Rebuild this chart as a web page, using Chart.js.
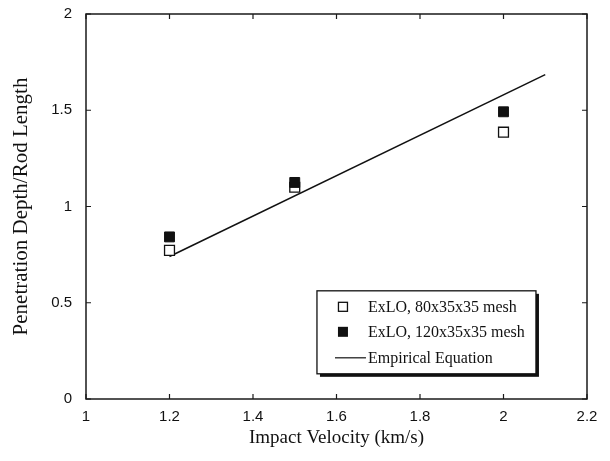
<!DOCTYPE html>
<html>
<head>
<meta charset="utf-8">
<style>
  html, body { margin: 0; padding: 0; background: #fff; }
  #wrap { width: 610px; height: 461px; }
</style>
<script src="https://cdn.jsdelivr.net/npm/chart.js@4.4.1/dist/chart.umd.min.js"></script>
</head>
<body>
<div id="wrap"><canvas id="c" width="610" height="461"></canvas></div>
<script>
// ---- Data ----
const velocities = [1.2, 1.5, 2.0];
const mesh80 = [0.772, 1.10, 1.386];
const mesh120 = [0.842, 1.125, 1.492];
const empiricalX = [1.2, 2.1];
const empiricalY = [0.74, 1.685];
const xTickLabels = ['1', '1.2', '1.4', '1.6', '1.8', '2', '2.2'];
const yTickLabels = ['0', '0.5', '1', '1.5', '2'];
const seriesLabels = ['ExLO, 80x35x35 mesh', 'ExLO, 120x35x35 mesh', 'Empirical Equation'];

const toPts = (xs, ys) => xs.map((x, i) => ({ x: x, y: ys[i] }));

const frameAndTicks = {
  id: 'frameAndTicks',
  afterDatasetsDraw(chart) {
    const { ctx, chartArea: a, scales } = chart;
    ctx.save();
    ctx.strokeStyle = '#1a1a1a';
    ctx.lineWidth = 1.5;
    ctx.strokeRect(a.left, a.top, a.right - a.left, a.bottom - a.top);
    const L = 5;
    ctx.lineWidth = 1.2;
    ctx.beginPath();
    scales.x.ticks.forEach((t, i) => {
      const px = scales.x.getPixelForTick(i);
      ctx.moveTo(px, a.bottom); ctx.lineTo(px, a.bottom - L);
      ctx.moveTo(px, a.top); ctx.lineTo(px, a.top + L);
    });
    scales.y.ticks.forEach((t, i) => {
      const py = scales.y.getPixelForTick(i);
      ctx.moveTo(a.left, py); ctx.lineTo(a.left + L, py);
      ctx.moveTo(a.right, py); ctx.lineTo(a.right - L, py);
    });
    ctx.stroke();
    ctx.restore();
  }
};

const boxLegend = {
  id: 'boxLegend',
  afterDraw(chart) {
    const { ctx, chartArea: a } = chart;
    const w = a.right - a.left, h = a.bottom - a.top;
    const bx = a.left + w * 0.461, by = a.top + h * 0.719;
    const bw = 219, bh = 83;
    ctx.save();
    // shadow
    ctx.fillStyle = '#111';
    ctx.fillRect(bx + 3, by + 3, bw, bh);
    ctx.fillStyle = '#fff';
    ctx.fillRect(bx, by, bw, bh);
    ctx.strokeStyle = '#111';
    ctx.lineWidth = 1.3;
    ctx.strokeRect(bx, by, bw, bh);
    ctx.font = '16px "Liberation Serif", "Times New Roman", serif';
    ctx.textBaseline = 'middle';
    ctx.fillStyle = '#111';
    const mx = bx + 26, tx = bx + 51;
    const rows = [by + 16, by + 41, by + 67];
    // row 1: open square
    ctx.lineWidth = 1.3;
    ctx.fillStyle = '#fff';
    ctx.fillRect(mx - 4.5, rows[0] - 4.5, 9, 9);
    ctx.strokeRect(mx - 4.5, rows[0] - 4.5, 9, 9);
    // row 2: filled square
    ctx.fillStyle = '#111';
    ctx.fillRect(mx - 5, rows[1] - 5, 10, 10);
    // row 3: line
    ctx.beginPath();
    ctx.lineWidth = 1.2;
    ctx.moveTo(bx + 18, rows[2]); ctx.lineTo(bx + 49, rows[2]);
    ctx.stroke();
    ctx.fillStyle = '#111';
    seriesLabels.forEach((s, i) => ctx.fillText(s, tx, rows[i] + 1));
    ctx.restore();
  }
};

new Chart(document.getElementById('c'), {
  type: 'scatter',
  data: {
    datasets: [
      {
        label: seriesLabels[2],
        data: toPts(empiricalX, empiricalY),
        showLine: true,
        borderColor: '#111',
        borderWidth: 1.5,
        pointRadius: 0,
        fill: false,
        order: 3
      },
      {
        label: seriesLabels[0],
        data: toPts(velocities, mesh80),
        pointStyle: 'rect',
        pointRadius: 7,
        backgroundColor: '#fff',
        borderColor: '#111',
        borderWidth: 1.3,
        order: 2
      },
      {
        label: seriesLabels[1],
        data: toPts(velocities, mesh120),
        pointStyle: 'rect',
        pointRadius: 7,
        backgroundColor: '#111',
        borderColor: '#111',
        borderWidth: 1,
        order: 1
      }
    ]
  },
  options: {
    responsive: false,
    devicePixelRatio: 1,
    animation: false,
    layout: { padding: { left: 0, top: 14, right: 23, bottom: 0 } },
    plugins: { legend: { display: false }, tooltip: { enabled: false } },
    scales: {
      x: {
        type: 'linear',
        min: 1, max: 2.2,
        afterFit(s) { s.height = 62; s.paddingLeft = 0; s.paddingRight = 0; },
        ticks: {
          stepSize: 0.2,
          padding: 9,
          color: '#111',
          font: { family: '"Liberation Sans", Arial, sans-serif', size: 15 },
          callback: (v, i) => xTickLabels[i]
        },
        grid: { display: false, drawTicks: false },
        border: { display: false },
        title: {
          display: true,
          text: 'Impact Velocity (km/s)',
          color: '#111',
          font: { family: '"Liberation Serif", "Times New Roman", serif', size: 19 },
          padding: { top: 0, bottom: 12 }
        }
      },
      y: {
        type: 'linear',
        min: 0, max: 2,
        afterFit(s) { s.width = 86; s.paddingTop = 0; s.paddingBottom = 0; },
        ticks: {
          stepSize: 0.5,
          padding: 14,
          color: '#111',
          font: { family: '"Liberation Sans", Arial, sans-serif', size: 15 },
          callback: (v, i) => yTickLabels[i]
        },
        grid: { display: false, drawTicks: false },
        border: { display: false },
        title: {
          display: true,
          text: 'Penetration Depth/Rod Length',
          color: '#111',
          font: { family: '"Liberation Serif", "Times New Roman", serif', size: 21 },
          padding: { top: 9, bottom: 0 }
        }
      }
    }
  },
  plugins: [frameAndTicks, boxLegend]
});
</script>
</body>
</html>
